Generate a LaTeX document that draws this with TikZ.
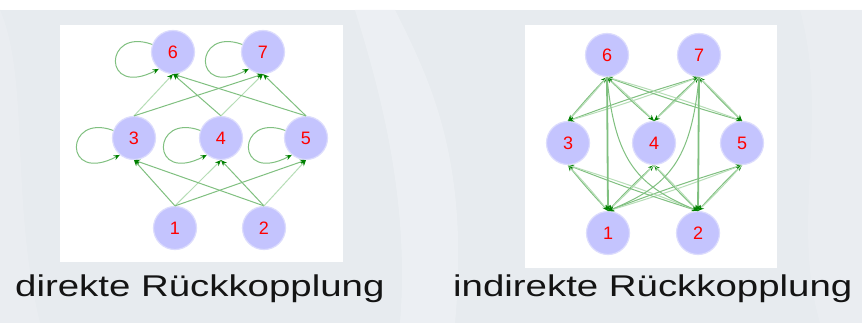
\documentclass[tikz,border=0pt]{standalone}
\usepackage{fontspec}
\setmainfont{Liberation Sans}
\usetikzlibrary{arrows.meta}

\definecolor{bgblue}{HTML}{E7EBEF}
\definecolor{bglight}{HTML}{EFF2F5}
\definecolor{nodefill}{HTML}{C4C4FE}
\definecolor{noderim}{HTML}{DCDCFD}
\definecolor{linkmid}{HTML}{80C080}
\definecolor{linklight}{HTML}{B6DDB6}
\definecolor{tipgreen}{HTML}{008000}

\tikzset{
  neuron/.style={circle, fill=nodefill, draw=noderim, line width=1.2pt,
    minimum size=43pt, inner sep=0pt, text=red,
    font=\fontsize{18}{18}\selectfont},
  link/.style={draw=linkmid, line width=1pt,
    -{Stealth[length=6pt,width=5pt,color=tipgreen]}},
  faint/.style={link, draw=linklight},
  heavy/.style={link, line width=1.8pt},
  caption/.style={anchor=base west, inner sep=0pt,
    font=\fontsize{30}{30}\selectfont, text=black!92},
  panel/.style={fill=white, draw=none},
}

\begin{document}
\begin{tikzpicture}[x=1pt, y=-1pt]
  % backdrop
  \useasboundingbox (0,0) rectangle (862,323);
  \fill[bgblue] (0,0) rectangle (862,323);
  \fill[white] (0,0) rectangle (862,10);
  \fill[bglight, opacity=0.7] (395,10) .. controls (430,80) and (470,160) .. (455,323)
    -- (400,323) .. controls (410,200) and (380,90) .. (355,10) -- cycle;
  \fill[bglight, opacity=0.4] (0,10) .. controls (30,80) and (10,200) .. (40,323)
    -- (0,323) -- cycle;
  \fill[bglight, opacity=0.4] (800,10) .. controls (830,120) and (790,220) .. (820,323)
    -- (862,323) -- (862,10) -- cycle;

  % panels
  \fill[panel] (60,25) rectangle (343,262);
  \fill[panel] (525,25) rectangle (777,268);

  % ---------- direct feedback ----------
  \node[neuron] (l6) at (173,52) {6};
  \node[neuron] (l7) at (263,52) {7};
  \node[neuron] (l3) at (134,138) {3};
  \node[neuron] (l4) at (221,138) {4};
  \node[neuron] (l5) at (306,138) {5};
  \node[neuron] (l1) at (175,228) {1};
  \node[neuron] (l2) at (264,228) {2};

  \draw[link]  (l1.north) -- (l3.south);
  \draw[faint] (l1.north) -- (l4.south);
  \draw[link]  (l1.north) -- (l5.south);
  \draw[link]  (l2.north) -- (l3.south);
  \draw[link]  (l2.north) -- (l4.south);
  \draw[faint] (l2.north) -- (l5.south);
  \draw[faint] (l3.north) -- (l6.south);
  \draw[link]  (l3.north) -- (l7.south);
  \draw[link]  (l4.north) -- (l6.south);
  \draw[faint] (l4.north) -- (l7.south);
  \draw[link]  (l5.north) -- (l6.south);
  \draw[link]  (l5.north) -- (l7.south);

  % self loops on the left side of each neuron
  \foreach \n in {l6,l7,l3,l4,l5}
    \draw[link] (\n.160) .. controls +(-49,-18) and +(-57,30) .. (\n.230);

  % ---------- indirect feedback ----------
  \node[neuron] (r6) at (607,55) {6};
  \node[neuron] (r7) at (699,55) {7};
  \node[neuron] (r3) at (568,143) {3};
  \node[neuron] (r4) at (654,143) {4};
  \node[neuron] (r5) at (742,143) {5};
  \node[neuron] (r1) at (608,233) {1};
  \node[neuron] (r2) at (698,233) {2};

  % forward links and links back to the previous layer
  \foreach \a in {r1,r2}
    \foreach \b in {r3,r4,r5} {
      \draw[link]  (\a.north) to[bend left=2] (\b.south);
      \draw[faint] (\b.south) to[bend left=2] (\a.north);
    }
  \foreach \a in {r3,r4,r5}
    \foreach \b in {r6,r7} {
      \draw[link]  (\a.north) to[bend left=2] (\b.south);
      \draw[faint] (\b.south) to[bend left=2] (\a.north);
    }

  % links back over two layers
  \draw[heavy] (r6.south) -- (r1.north);
  \draw[heavy] (r7.south) -- (r2.north);
  \draw[link] (r6.south) .. controls +(8,85) and +(-60,-25) .. (r2.north);
  \draw[link] (r7.south) .. controls +(-8,85) and +(60,-25) .. (r1.north);

  % captions
  \node[caption] (capA) at (15,296) {\scalebox{1.28}[1]{direkte Rückkopplung}};
  \node[caption] (capB) at (453,296) {\scalebox{1.28}[1]{indirekte Rückkopplung}};
\end{tikzpicture}
\end{document}
